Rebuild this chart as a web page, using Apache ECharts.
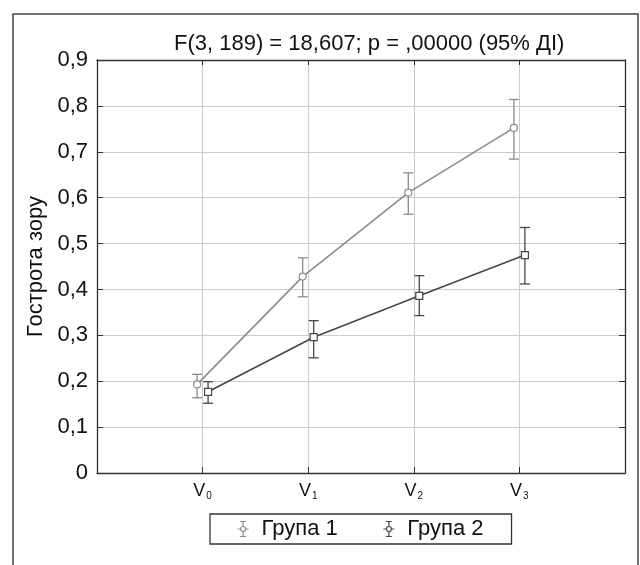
<!DOCTYPE html>
<html>
<head>
<meta charset="utf-8">
<script src="https://cdn.jsdelivr.net/npm/echarts@6/dist/echarts.min.js"></script>
<style>
html,body{margin:0;padding:0;background:#fff;}
#c{width:640px;height:565px;}
</style>
</head>
<body>
<div id="c"></div>
<script>
var categories = ['0', '1', '2', '3'];
var seriesNames = ['Група 1', 'Група 2'];
var g1Mean = [0.193, 0.428, 0.611, 0.752];
var g1Low  = [0.164, 0.384, 0.564, 0.684];
var g1High = [0.215, 0.469, 0.654, 0.814];
var g2Mean = [0.177, 0.296, 0.386, 0.475];
var g2Low  = [0.152, 0.251, 0.343, 0.412];
var g2High = [0.199, 0.332, 0.430, 0.535];
var yTicks = [0, 0.1, 0.2, 0.3, 0.4, 0.5, 0.6, 0.7, 0.8, 0.9];
var titleText = 'F(3, 189) = 18,607; p = ,00000 (95% ДІ)';
var yName = 'Гострота зору';

var FONT = 'Liberation Sans, Arial, sans-serif';
var FS = 22;
var C1 = '#8c8c8c', C2 = '#474747';
var JIT = 0.052;

function pts(mean, off) { return mean.map(function (v, i) { return [i + off, v]; }); }
function bars(low, high, off) { return low.map(function (v, i) { return [i + off, v, high[i]]; }); }

function errRender(color) {
  return function (params, api) {
    var x = api.value(0);
    var lo = api.coord([x, api.value(1)]);
    var hi = api.coord([x, api.value(2)]);
    var w = 5;
    var st = { stroke: color, lineWidth: 1.3 };
    return {
      type: 'group',
      children: [
        { type: 'line', shape: { x1: lo[0], y1: lo[1], x2: hi[0], y2: hi[1] }, style: st },
        { type: 'line', shape: { x1: lo[0] - w, y1: lo[1], x2: lo[0] + w, y2: lo[1] }, style: st },
        { type: 'line', shape: { x1: hi[0] - w, y1: hi[1], x2: hi[0] + w, y2: hi[1] }, style: st }
      ]
    };
  };
}

var iconPath = 'path://M2.5 0 H8.5 M5.5 0 V5 M5.5 10 V15 M2.5 15 H8.5 M0 7.5 H3 M8 7.5 H11 M3 7.5 A2.5 2.5 0 1 1 8 7.5 A2.5 2.5 0 1 1 3 7.5 Z';

var chart = echarts.init(document.getElementById('c'), null, { renderer: 'canvas' });
var axisLineStyle = { color: '#333', width: 1.3 };
var option = {
  animation: false,
  textStyle: { fontFamily: FONT },
  title: {
    text: titleText, left: 169, top: 28,
    textStyle: { fontFamily: FONT, fontSize: FS, fontWeight: 'normal', color: '#111' }
  },
  graphic: [{
    type: 'rect', shape: { x: 13, y: 14, width: 625, height: 600 },
    style: { fill: 'none', stroke: '#444', lineWidth: 1.5 }, silent: true, z: -1
  }],
  legend: {
    left: 210, top: 514,
    padding: [4, 28, 4, 27],
    itemGap: 45, itemWidth: 11, itemHeight: 15,
    borderColor: '#333', borderWidth: 1.3,
    textStyle: { fontFamily: FONT, fontSize: FS, color: '#111', padding: [0, 0, 0, 8] },
    data: [
      { name: seriesNames[0], icon: iconPath, itemStyle: { color: '#fff', borderColor: C1, borderWidth: 1.2 } },
      { name: seriesNames[1], icon: iconPath, itemStyle: { color: '#fff', borderColor: C2, borderWidth: 1.2 } }
    ]
  },
  grid: { left: 97, right: 15, top: 60, bottom: 92, containLabel: false },
  xAxis: [{
    type: 'value', min: -1, max: 4, interval: 1,
    axisLine: { onZero: false, lineStyle: axisLineStyle },
    axisTick: { inside: true, length: 6, lineStyle: { color: '#333' } },
    splitLine: { show: true, lineStyle: { color: '#cccccc', width: 1.1 } },
    axisLabel: {
      margin: 8,
      formatter: function (v) {
        var i = Math.round(v);
        if (i < 0 || i >= categories.length) return '';
        return '{v|V}{s|' + categories[i] + '}';
      },
      rich: {
        v: { fontFamily: FONT, fontSize: 18, color: '#111' },
        s: { fontFamily: FONT, fontSize: 10, color: '#111', verticalAlign: 'bottom', padding: [10, 0, 0, 1] }
      }
    }
  }, {
    type: 'value', position: 'top', min: -1, max: 4, interval: 1,
    axisLine: { show: true, onZero: false, lineStyle: axisLineStyle },
    axisTick: { inside: true, length: 5, lineStyle: { color: '#333' } },
    splitLine: { show: false }, axisLabel: { show: false }
  }],
  yAxis: [{
    type: 'value', min: 0, max: 0.9, interval: 0.1,
    name: yName, nameLocation: 'middle', nameGap: 46,
    nameTextStyle: { fontFamily: FONT, fontSize: FS, color: '#111' },
    axisLine: { show: true, onZero: false, lineStyle: axisLineStyle },
    axisTick: { show: true, inside: true, length: 6, lineStyle: { color: '#333' } },
    splitLine: { show: true, lineStyle: { color: '#cccccc', width: 1.1 } },
    axisLabel: {
      margin: 9, fontFamily: FONT, fontSize: FS, color: '#111',
      formatter: function (v) {
        var t = yTicks.reduce(function (a, b) { return Math.abs(b - v) < Math.abs(a - v) ? b : a; });
        return t === 0 ? '0' : t.toFixed(1).replace('.', ',');
      }
    }
  }, {
    type: 'value', position: 'right', min: 0, max: 0.9, interval: 0.1,
    axisLine: { show: true, onZero: false, lineStyle: axisLineStyle },
    axisTick: { show: true, inside: true, length: 6, lineStyle: { color: '#333' } },
    splitLine: { show: false }, axisLabel: { show: false }
  }],
  series: [
    {
      name: seriesNames[0], type: 'line', data: pts(g1Mean, -JIT),
      symbol: 'circle', symbolSize: 7,
      lineStyle: { color: C1, width: 1.6 },
      itemStyle: { color: '#fff', borderColor: C1, borderWidth: 1.2 }, z: 3
    },
    {
      name: seriesNames[1], type: 'line', data: pts(g2Mean, JIT),
      symbol: 'rect', symbolSize: 7,
      lineStyle: { color: C2, width: 1.6 },
      itemStyle: { color: '#fff', borderColor: C2, borderWidth: 1.2 }, z: 3
    },
    {
      name: seriesNames[0], type: 'custom', data: bars(g1Low, g1High, -JIT),
      renderItem: errRender(C1), z: 2, encode: { x: 0, y: [1, 2] }
    },
    {
      name: seriesNames[1], type: 'custom', data: bars(g2Low, g2High, JIT),
      renderItem: errRender(C2), z: 2, encode: { x: 0, y: [1, 2] }
    }
  ]
};
chart.setOption(option);
</script>
</body>
</html>
